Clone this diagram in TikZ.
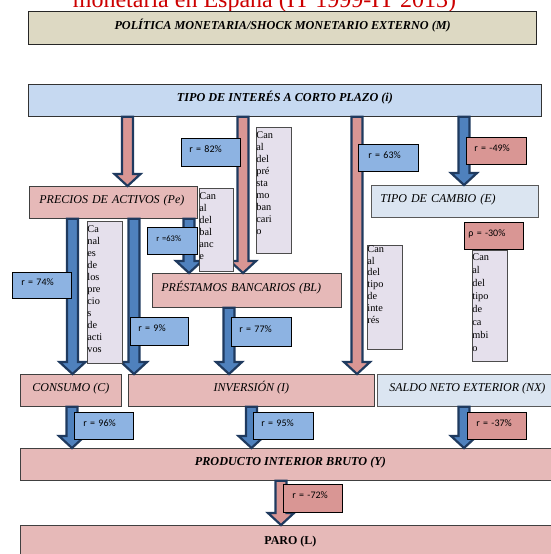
\documentclass[tikz,border=0pt]{standalone}
\usepackage{fontspec}
\setmainfont{Liberation Serif}
\newfontfamily\carlito{Carlito}
\usetikzlibrary{calc}
\definecolor{titlered}{HTML}{CC0000}
\definecolor{beige}{HTML}{DDD9C3}
\definecolor{iblue}{HTML}{C6D9F1}
\definecolor{pbox}{HTML}{E6B9B8}
\definecolor{ebox}{HTML}{DBE5F1}
\definecolor{rblue}{HTML}{8DB3E2}
\definecolor{rpink}{HTML}{D99694}
\definecolor{lav}{HTML}{E5E0EC}
\definecolor{ablue}{HTML}{4F81BD}
\definecolor{navy}{HTML}{1F3A5F}
\newcommand\ctext[5]{\parbox[c][#2pt][t]{#1pt}{\fontsize{10.3}{#4}\selectfont\leftskip=8pt\raggedright\vspace*{#3pt}#5}}
\newcommand\barrow[4]{%
  \draw[barrowst, fill=#1] let \p1=(#3.south -| #2,0), \p2=(#4.north -| #2,0) in
   (\x1-5.5pt,\y1) -- (\x1-5.5pt,\y2+12pt) -- (\x1-13pt,\y2+12pt) -- (\x1,\y2) --
   (\x1+13pt,\y2+12pt) -- (\x1+5.5pt,\y2+12pt) -- (\x1+5.5pt,\y1) -- cycle;}
\begin{document}
\begin{tikzpicture}[x=1pt,y=-1pt,
  box/.style={anchor=north west, inner sep=0pt, line width=0.8pt, text height=8pt, text depth=6pt},
  bi/.style={font=\fontsize{12.2}{14}\selectfont\bfseries\itshape},
  it/.style={font=\fontsize{12}{14}\selectfont\itshape},
  ltext/.style={inner xsep=9pt, text width=#1, align=left},
  canal/.style={anchor=north west, inner sep=0pt, draw=black!70, fill=lav, line width=0.8pt},
  rlab/.style={anchor=north west, draw=black, line width=0.7pt, inner ysep=0pt, inner xsep=8pt,
    font=\carlito\fontsize{10}{12}\selectfont, text height=6.5pt, text depth=6pt, align=left},
  barrowst/.style={draw=navy, line width=2.2pt, line join=miter}]
\useasboundingbox (0,0) rectangle (551,554);
\clip (0,0) rectangle (551,554);

% title (cut at top, as in the source)
\node[anchor=base, font=\fontsize{24}{27}\selectfont, text=titlered] (title) at (264.5,7)
  {monetaria en España (IT 1999-IT 2013)};

% main boxes
\node[box, bi, draw=black!85, line width=1.3pt, fill=beige, minimum width=508pt, minimum height=33pt] (M) at (28,11)
  {POLÍTICA MONETARIA/SHOCK MONETARIO EXTERNO (M)};
\node[box, bi, draw=black!80, fill=iblue, minimum width=513pt, minimum height=32pt] (i) at (28,84)
  {TIPO DE INTERÉS A CORTO PLAZO (i)};
\node[box, it, draw=black!75, fill=pbox, inner xsep=10pt, text width=148pt, align=left, minimum height=32pt] (Pe) at (29,186)
  {PRECIOS DE ACTIVOS (Pe)};
\node[box, it, draw=black!65, fill=ebox, ltext=149pt, minimum height=32pt] (E) at (371,185)
  {TIPO DE CAMBIO (E)};
\node[box, it, draw=black!75, fill=pbox, ltext=171pt, minimum height=34pt] (BL) at (152,273)
  {PRÉSTAMOS BANCARIOS (BL)};
\node[box, it, draw=black!75, fill=pbox, minimum width=101pt, minimum height=32pt] (C) at (20,374)
  {CONSUMO (C)};
\node[box, it, draw=black!75, fill=pbox, minimum width=246pt, minimum height=32pt] (I) at (128,374)
  {INVERSIÓN (I)};
\node[box, it, draw=black!65, fill=ebox, minimum width=180pt, minimum height=32pt] (NX) at (377,374)
  {SALDO NETO EXTERIOR (NX)};
\node[box, bi, draw=black!75, fill=pbox, minimum width=540pt, minimum height=32pt] (Y) at (20,448)
  {PRODUCTO INTERIOR BRUTO (Y)};
\node[box, font=\fontsize{12}{14}\selectfont\bfseries, draw=black!75, fill=pbox, minimum width=540pt, minimum height=36pt] (L) at (20,525)
  {PARO (L)};

% block arrows
\barrow{rpink}{127.5}{i}{Pe}
\barrow{rpink}{243}{i}{BL}
\barrow{rpink}{357}{i}{I}
\barrow{ablue}{464}{i}{E}
\barrow{ablue}{72.5}{Pe}{C}
\barrow{ablue}{134}{Pe}{I}
\barrow{ablue}{189}{Pe}{BL}
\barrow{ablue}{229}{BL}{I}
\barrow{ablue}{72}{C}{Y}
\barrow{ablue}{251.5}{I}{Y}
\barrow{ablue}{464}{NX}{Y}
\barrow{rpink}{281}{Y}{L}

% channel boxes
\node[canal] (cpb) at (256,127) {\ctext{35}{126}{4}{12}{Can\\al\\del\\pré\\sta\\mo\\ban\\cari\\o}};
\node[canal] (cbal) at (199,188) {\ctext{34}{83}{4}{12}{Can\\al\\del\\bal\\anc\\e}};
\node[canal] (cpre) at (87,221) {\ctext{35}{142}{4}{12}{Ca\\nal\\es\\de\\los\\pre\\cio\\s\\de\\acti\\vos}};
\node[canal] (cint) at (367,245) {\ctext{35}{104}{0}{11.8}{Can\\al\\del\\tipo\\de\\inte\\rés}};
\node[canal] (ccam) at (472,250) {\ctext{35}{111}{3}{13}{Can\\al\\del\\tipo\\de\\ca\\mbi\\o}};

% correlation labels
\node[rlab, fill=rblue, text width=43pt, minimum height=28pt] (r82) at (181,138) {r = 82\%};
\node[rlab, fill=rblue, inner xsep=10pt, text width=40pt, minimum height=27pt] (r63a) at (358,144) {r = 63\%};
\node[rlab, fill=rpink, text width=44pt, minimum height=27pt] (rm49) at (466,137) {r = -49\%};
\node[rlab, fill=rpink, inner xsep=4pt, text width=51pt, minimum height=27pt] (rho) at (464,222) {ρ = -30\%};
\node[rlab, fill=rblue, inner xsep=9pt, text width=32pt, minimum height=27pt, font=\carlito\fontsize{8.5}{10}\selectfont] (r63b) at (147,227) {r =63\%};
\node[rlab, fill=rblue, inner xsep=9pt, text width=41pt, minimum height=26pt] (r74) at (12,272) {r = 74\%};
\node[rlab, fill=rblue, text width=42pt, minimum height=28pt] (r9) at (130,317) {r = 9\%};
\node[rlab, fill=rblue, text width=44pt, minimum height=29pt] (r77) at (231,317) {r = 77\%};
\node[rlab, fill=rblue, inner xsep=9pt, text width=41pt, minimum height=27pt] (r96) at (74,412) {r = 96\%};
\node[rlab, fill=rblue, text width=44pt, minimum height=27pt] (r95) at (253,412) {r = 95\%};
\node[rlab, fill=rpink, inner xsep=9pt, text width=41pt, minimum height=27pt] (rm37) at (467,412) {r = -37\%};
\node[rlab, fill=rpink, inner xsep=9pt, text width=41pt, minimum height=28pt] (rm72) at (283,484) {r = -72\%};
\end{tikzpicture}
\end{document}
